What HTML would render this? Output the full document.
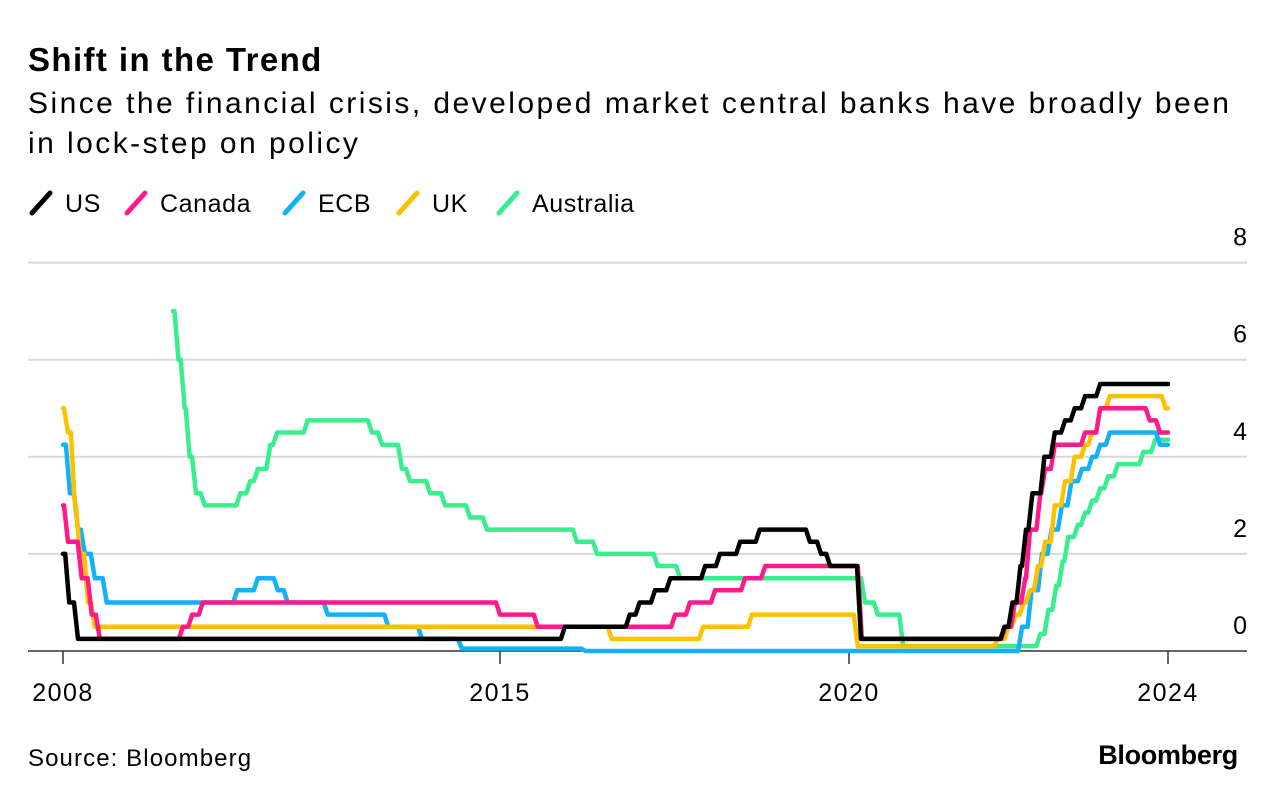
<!DOCTYPE html>
<html><head><meta charset="utf-8"><style>
body{margin:0;background:#fff;font-family:"Liberation Sans",Arial,sans-serif;}
#wrap{position:relative;width:1276px;height:800px;overflow:hidden;}
.t{position:absolute;left:28px;color:#000;white-space:nowrap;}
</style></head><body>
<div id="wrap">
<div class="t" style="top:41px;font-size:33px;font-weight:bold;letter-spacing:1.4px">Shift in the Trend</div>
<div class="t" style="top:84px;font-size:30px;line-height:40px;letter-spacing:2.45px">Since the financial crisis, developed market central banks have broadly been<br>in lock-step on policy</div>
<div class="t" style="top:745px;font-size:24px;letter-spacing:1.1px">Source: Bloomberg</div>
<div style="position:absolute;right:38px;top:740px;font-size:27px;font-weight:bold;letter-spacing:-0.3px">Bloomberg</div>
<svg id="chart" width="1276" height="800" style="position:absolute;left:0;top:0"></svg>
</div>
<script>
const seriesNames=["Australia","ECB","UK","Canada","US"];
const seriesColors=["#39ee8c","#14b0f9","#fdc100","#ff1a8c","#000000"];
const legendOrder=["US","Canada","ECB","UK","Australia"];
const yTicks=[0,2,4,6,8];
const xTickYears=[2008,2015,2020,2024];
const usData=[[2008,2.0],[2008.1,1.0],[2008.24,0.25],[2015.93,0.5],[2016.86,0.75],[2017.0,1.0],[2017.22,1.25],[2017.44,1.5],[2017.94,1.75],[2018.15,2.0],[2018.44,2.25],[2018.72,2.5],[2019.44,2.25],[2019.6,2.0],[2019.73,1.75],[2020.15,0.25],[2021.95,0.5],[2022.05,1.0],[2022.15,1.75],[2022.22,2.5],[2022.3,3.25],[2022.45,4.0],[2022.58,4.5],[2022.71,4.75],[2022.83,5.0],[2022.96,5.25],[2023.15,5.5],[2024,5.5]];
const canadaData=[[2008,3.0],[2008.08,2.25],[2008.3,1.5],[2008.46,0.75],[2008.59,0.25],[2009.92,0.5],[2010.07,0.75],[2010.24,1.0],[2015.0,0.75],[2015.54,0.5],[2017.51,0.75],[2017.72,1.0],[2018.08,1.25],[2018.51,1.5],[2018.8,1.75],[2020.16,0.25],[2021.96,0.5],[2022.08,1.0],[2022.21,1.5],[2022.27,2.5],[2022.4,3.25],[2022.46,3.75],[2022.58,4.25],[2022.96,4.5],[2023.15,5.0],[2023.77,4.75],[2023.9,4.5],[2024,4.5]];
const ecbData=[[2008,4.25],[2008.11,3.25],[2008.24,2.5],[2008.35,2.0],[2008.51,1.5],[2008.7,1.0],[2010.79,1.25],[2011.12,1.5],[2011.44,1.25],[2011.6,1.0],[2012.24,0.75],[2013.21,0.5],[2013.75,0.25],[2014.39,0.05],[2016.22,0],[2022.17,0.5],[2022.29,1.25],[2022.42,2.0],[2022.54,2.5],[2022.67,3.0],[2022.79,3.5],[2022.92,3.75],[2023.05,4.0],[2023.15,4.25],[2023.27,4.5],[2023.9,4.25],[2024,4.25]];
const ukData=[[2008,5.0],[2008.08,4.5],[2008.19,3.0],[2008.27,2.0],[2008.4,1.0],[2008.51,0.5],[2016.6,0.25],[2017.91,0.5],[2018.61,0.75],[2020.11,0.1],[2021.87,0.25],[2022.0,0.5],[2022.09,0.75],[2022.19,1.0],[2022.27,1.25],[2022.37,1.75],[2022.46,2.25],[2022.58,3.0],[2022.71,3.5],[2022.83,4.0],[2022.96,4.25],[2023.05,4.5],[2023.15,5.0],[2023.27,5.25],[2023.97,5.0],[2024,5.0]];
const australiaData=[[2009.76,7.0],[2009.85,6.0],[2009.95,5.0],[2010.03,4.0],[2010.13,3.25],[2010.27,3.0],[2010.84,3.25],[2011.0,3.5],[2011.12,3.75],[2011.32,4.25],[2011.43,4.5],[2011.92,4.75],[2012.95,4.5],[2013.11,4.25],[2013.43,3.75],[2013.56,3.5],[2013.88,3.25],[2014.12,3.0],[2014.52,2.75],[2014.79,2.5],[2016.1,2.25],[2016.39,2.0],[2017.26,1.75],[2017.58,1.5],[2020.2,1.0],[2020.36,0.75],[2020.68,0.1],[2022.4,0.35],[2022.5,0.85],[2022.6,1.35],[2022.68,1.85],[2022.75,2.35],[2022.87,2.6],[2022.96,2.85],[2023.05,3.1],[2023.15,3.35],[2023.25,3.6],[2023.37,3.85],[2023.69,4.1],[2023.84,4.35],[2024,4.35]];
const allData=[australiaData,ecbData,ukData,canadaData,usData];

const NS="http://www.w3.org/2000/svg";
const svg=document.getElementById('chart');
const xA=[[2008,63],[2015,500],[2020,849],[2024,1168]];
function xScale(t){for(let i=0;i<xA.length-1;i++){if(t<=xA[i+1][0]||i==xA.length-2){const a=xA[i],b=xA[i+1];return a[1]+(t-a[0])/(b[0]-a[0])*(b[1]-a[1]);}}}
function yScale(v){return 651-v*48.55;}
function mk(tag,attrs){const e=document.createElementNS(NS,tag);for(const k in attrs)e.setAttribute(k,attrs[k]);svg.appendChild(e);return e;}
yTicks.forEach(v=>{
  const y=yScale(v);
  if(v>0){const g=mk('line',{x1:28,x2:1247,y1:y,y2:y,stroke:'#d9d9d9','stroke-width':2});
  
  }
  const t=mk('text',{x:1247,y:y-17,'text-anchor':'end','font-size':25,fill:'#000'});
  t.textContent=v;
  
  
});
const base=mk('line',{x1:28,x2:1247,y1:651,y2:651,stroke:'#333','stroke-width':1.5});


xTickYears.forEach(yr=>{
  const x=xScale(yr);
  const tk=mk('line',{x1:x,x2:x,y1:651,y2:664,stroke:'#333','stroke-width':1.5});
  
  
  const t=mk('text',{x:x,y:701,'text-anchor':'middle','font-size':25,'letter-spacing':1.5,fill:'#000'});
  t.textContent=yr;
  
  
});
allData.forEach((d,i)=>{
  let p='M'+xScale(d[0][0]).toFixed(1)+' '+yScale(d[0][1]).toFixed(1);
  for(let j=1;j<d.length;j++){
    const x0=xScale(d[j-1][0]),x1=xScale(d[j][0]);
    const xs=Math.max(x0,x1-4);
    p+=' H'+xs.toFixed(1)+' L'+x1.toFixed(1)+' '+yScale(d[j][1]).toFixed(1);
  }
  const path=mk('path',{d:p,fill:'none',stroke:seriesColors[i],'stroke-width':4.5,'stroke-linejoin':'round','stroke-linecap':'round'});
  
  
});
const legendX=[30,125,283,397,497];
legendOrder.forEach((n,k)=>{
  const i=seriesNames.indexOf(n);
  const lx=legendX[k];
  const m=mk('line',{x1:lx+2,y1:213,x2:lx+20,y2:193,stroke:seriesColors[i],'stroke-width':5,'stroke-linecap':'round'});
  
  
  const t=mk('text',{x:lx+35,y:212,'font-size':25,'letter-spacing':0.6,fill:'#000'});
  t.textContent=n;
  
  
});
</script>
</body></html>
